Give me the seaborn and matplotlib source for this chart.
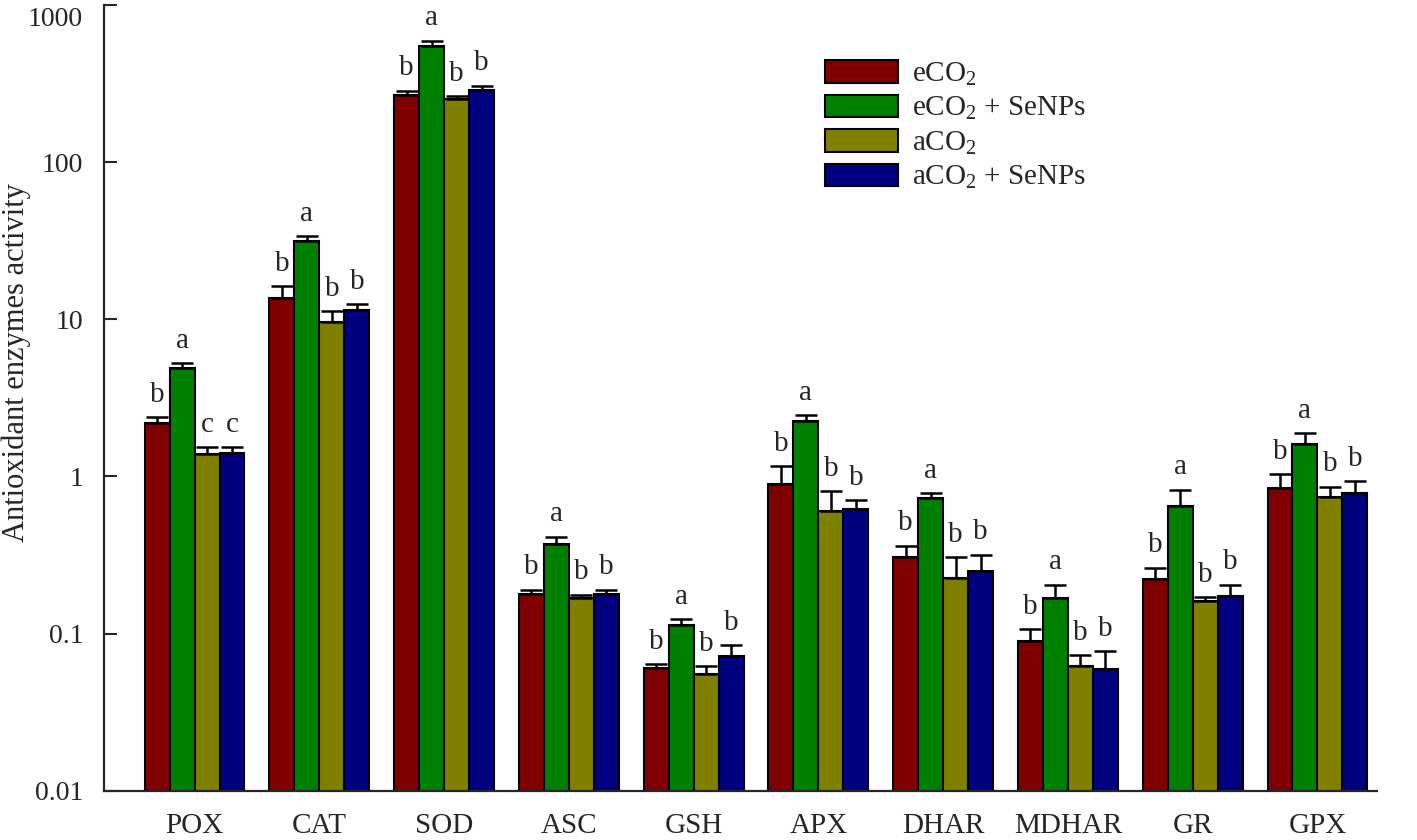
import numpy as np
import matplotlib
matplotlib.use('Agg')
import matplotlib.pyplot as plt
import matplotlib.transforms as mtransforms
import pandas as pd
import seaborn as sns

enzymes = ['POX', 'CAT', 'SOD', 'ASC', 'GSH', 'APX', 'DHAR', 'MDHAR', 'GR', 'GPX']
treatments = ['eCO$_2$', 'eCO$_2$ + SeNPs', 'aCO$_2$', 'aCO$_2$ + SeNPs']

# means
eco2 = [2.19, 13.6, 269, 0.179, 0.0605, 0.90, 0.309, 0.090, 0.224, 0.838]
eco2_senps = [4.87, 31.5, 545, 0.374, 0.114, 2.24, 0.734, 0.169, 0.644, 1.62]
aco2 = [1.39, 9.6, 254, 0.169, 0.0554, 0.60, 0.227, 0.0623, 0.162, 0.735]
aco2_senps = [1.40, 11.5, 290, 0.179, 0.072, 0.625, 0.251, 0.0597, 0.174, 0.79]

# upper error (SE)
eco2_se = [0.19, 2.7, 16, 0.011, 0.0035, 0.26, 0.054, 0.017, 0.039, 0.20]
eco2_senps_se = [0.37, 2.3, 49, 0.040, 0.010, 0.21, 0.046, 0.036, 0.18, 0.26]
aco2_se = [0.14, 1.7, 8, 0.008, 0.0066, 0.21, 0.078, 0.0107, 0.008, 0.125]
aco2_senps_se = [0.13, 1.0, 17, 0.011, 0.012, 0.085, 0.067, 0.0173, 0.031, 0.14]

letters = [
    ['b', 'b', 'b', 'b', 'b', 'b', 'b', 'b', 'b', 'b'],
    ['a', 'a', 'a', 'a', 'a', 'a', 'a', 'a', 'a', 'a'],
    ['c', 'b', 'b', 'b', 'b', 'b', 'b', 'b', 'b', 'b'],
    ['c', 'b', 'b', 'b', 'b', 'b', 'b', 'b', 'b', 'b'],
]

colors = ['#800000', '#008000', '#808000', '#000080']

means = [eco2, eco2_senps, aco2, aco2_senps]
errs = [eco2_se, eco2_senps_se, aco2_se, aco2_senps_se]

df = pd.DataFrame({
    'enzyme': np.tile(enzymes, 4),
    'treatment': np.repeat(treatments, len(enzymes)),
    'value': np.concatenate(means),
})

sns.set_style('ticks')
plt.rcParams['font.family'] = ['Liberation Serif', 'DejaVu Serif']
plt.rcParams['mathtext.fontset'] = 'custom'
plt.rcParams['mathtext.rm'] = 'Liberation Serif'
plt.rcParams['mathtext.it'] = 'Liberation Serif:italic'

fig = plt.figure(figsize=(14.17, 8.4), dpi=100)
ax = fig.add_axes([0.0734, 0.0587, 0.8986, 0.9353])

sns.barplot(data=df, x='enzyme', y='value', hue='treatment',
            order=enzymes, hue_order=treatments, palette=colors,
            width=0.8, errorbar=None, edgecolor='black', linewidth=1.5,
            saturation=1, legend=False, ax=ax)
ax.set_yscale('log')

bar_conts = list(ax.containers)
for i, cont in enumerate(bar_conts):
    xs = [p.get_x() + p.get_width() / 2 for p in cont.patches]
    m = np.array(means[i])
    e = np.array(errs[i])
    ax.errorbar(xs, m, yerr=[np.zeros_like(e), e], fmt='none', ecolor='black',
                elinewidth=1.8, capsize=8, capthick=1.8, zorder=3)
    for x, top, lab in zip(xs, m + e, letters[i]):
        ax.annotate(lab, (x, top), xytext=(0, 11), textcoords='offset points',
                    ha='center', va='baseline', fontsize=21)

ax.set_ylim(0.01, 1000)
ax.set_xlim(-0.726, 9.48)
ax.set_yticks([0.01, 0.1, 1, 10, 100, 1000])
ax.set_yticklabels(['0.01', '0.1', '1', '10', '100', '1000'])
ax.minorticks_off()
ax.tick_params(axis='y', direction='in', length=9, width=1.5, labelsize=20, pad=15)
ax.tick_params(axis='x', length=0, labelsize=21, pad=16)
# top label sits a bit lower so it stays inside the figure
top_lab = ax.get_yticklabels()[-1]
top_lab.set_transform(top_lab.get_transform() +
                      mtransforms.ScaledTranslation(0, -8 / 72, fig.dpi_scale_trans))
ax.set_xlabel('')
ax.set_ylabel('Antioxidant enzymes activity', fontsize=22)
ax.yaxis.set_label_coords(-0.057, 0.545)
sns.despine(ax=ax)
for s in ['left', 'bottom']:
    ax.spines[s].set_linewidth(1.6)

handles = [plt.Rectangle((0, 0), 1, 1, facecolor=c, edgecolor='black', linewidth=1.5)
           for c in colors]
ax.legend(handles, treatments, loc='upper left', bbox_to_anchor=(0.582, 0.928),
          bbox_transform=fig.transFigure, frameon=False, fontsize=21,
          handlelength=2.5, handleheight=0.8, handletextpad=0.5,
          labelspacing=0.24, borderpad=0, borderaxespad=0)

fig.savefig('out.png', dpi=100)
